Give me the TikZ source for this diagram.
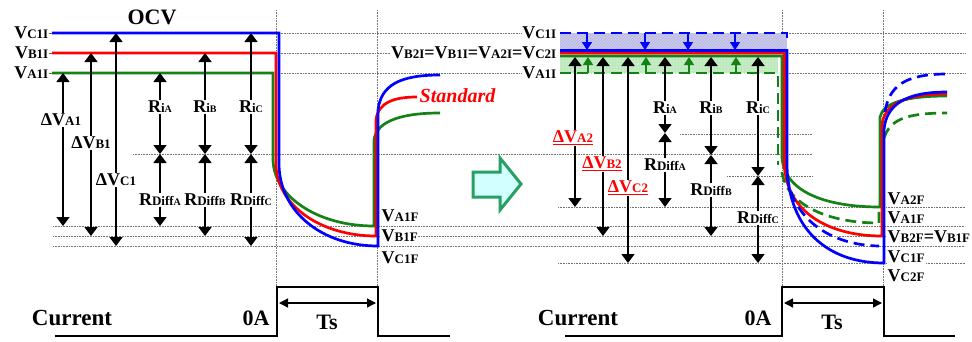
\documentclass[tikz,border=0pt]{standalone}
\usepackage{fontspec}
\setmainfont{Liberation Serif}
\usetikzlibrary{arrows.meta,patterns}
\definecolor{cblue}{RGB}{0,0,255}
\definecolor{cred}{RGB}{255,0,0}
\definecolor{cgreen}{RGB}{20,130,20}
\definecolor{arrgreen}{RGB}{40,160,100}
\definecolor{arrfill}{RGB}{210,255,255}
\definecolor{shblue}{RGB}{200,200,255}
\definecolor{shgreen}{RGB}{200,235,200}
\newcommand\fBig{\fontsize{18}{18}\selectfont}
\newcommand\fSml{\fontsize{13}{13}\selectfont}
\newcommand\fTny{\fontsize{10}{10}\selectfont}
\newcommand\Vlab[1]{{\fBig V}{\fSml #1}}
\newcommand\Rlab[2]{{\fBig R}{\fSml #1}{\fTny #2}}
\newcommand\Dlab[1]{{\fBig Δ}\Vlab{#1}}
\begin{document}
\begin{tikzpicture}[x=1pt,y=-1pt,
 lbl/.style={font=\bfseries, inner sep=0.5pt},
 wlab/.style={lbl, fill=white, anchor=west},
 dotl/.style={densely dotted, black!55, line width=0.6pt},
 arr/.style={line width=1.5pt, -{Triangle[width=13pt,length=9pt]}},
 sarr/.style={line width=1.6pt, -{Triangle[width=10pt,length=8pt]}},
 crv/.style={line width=2.7pt},
 dsh/.style={line width=2.7pt, dash pattern=on 11pt off 6pt},
 cur/.style={line width=2.4pt},
 tarr/.style={line width=1.3pt, {Triangle[width=9pt,length=9pt]}-{Triangle[width=9pt,length=9pt]}},
]
\useasboundingbox (0,0) rectangle (972,341);

% ---------- labels at top left
\node[lbl] (ocv) at (152,17) {\fontsize{22}{22}\selectfont OCV};
\node[lbl,anchor=east] (LVc) at (49,33) {\Vlab{C1I}};
\node[lbl,anchor=east] (LVb) at (49,53) {\Vlab{B1I}};
\node[lbl,anchor=east] (LVa) at (49,73) {\Vlab{A1I}};
\coordinate (Lc0) at (52,33);
\coordinate (Lb0) at (52,53);
\coordinate (La0) at (52,73);
\draw[line width=0.6pt, black!60] (LVc.east) -- (Lc0);
\draw[line width=0.6pt, black!60] (LVb.east) -- (Lb0);
\draw[line width=0.6pt, black!60] (LVa.east) -- (La0);

% ---------- right top labels
\node[lbl,anchor=east] (RVc) at (557,33) {\Vlab{C1I}};
\node[lbl,anchor=east] (RVb) at (557,53) {\Vlab{B2I}{\fBig =}\Vlab{B1I}{\fBig =}\Vlab{A2I}{\fBig =}\Vlab{C2I}};
\node[lbl,anchor=east] (RVa) at (557,73) {\Vlab{A1I}};

% ---------- dotted guide lines
\coordinate (g33) at (279,33); \coordinate (g53) at (279,53); \coordinate (g73) at (279,73);
\draw[dotl] (g33) -- (RVc.west);
\draw[dotl] (g53) -- (RVb.west);
\draw[dotl] (g73) -- (RVa.west);
\draw[dotl] (787,33) -- (965,33);
\draw[dotl] (787,53) -- (965,53);
\draw[dotl] (787,73) -- (965,73);
\draw[dotl] (276,10) -- (276,287);
\draw[dotl] (377,10) -- (377,287);
\draw[dotl] (782,10) -- (782,287);
\draw[dotl] (883,10) -- (883,287);
\draw[dotl] (133,154) -- (812,154);
\draw[dotl] (680,134) -- (812,134);
\draw[dotl] (727,176) -- (812,176);
\draw[dotl] (558,207) -- (965,207);
\draw[dotl] (53,226) -- (965,226);
\draw[dotl] (53,236) -- (965,236);
\draw[dotl] (53,246) -- (965,246);
\draw[dotl] (558,263) -- (965,263);

% ---------- left curves
\draw[crv, cgreen] (La0) -- (273,73) -- (273,160) .. controls (274,197) and (318,226) .. (374,226) -- (374,140) .. controls (376,124) and (395,113) .. (440,113);
\draw[crv, cred] (Lb0) -- (276,53) -- (276,165) .. controls (277,205) and (320,236) .. (376,236) -- (376,120) .. controls (378,102) and (395,97) .. (417,97);
\draw[crv, cblue] (Lc0) -- (279,33) -- (279,165) .. controls (280,212) and (322,246) .. (378,246) -- (378,110) .. controls (381,85) and (400,75) .. (440,75);
\node[lbl, anchor=west, text=cred, font=\bfseries\itshape\fontsize{20}{20}\selectfont] (std) at (419,96) {Standard};

% ---------- left Delta arrows
\coordinate (a1t) at (63,73);  \coordinate (a1b) at (63,226);
\coordinate (b1t) at (91,53);  \coordinate (b1b) at (91,236);
\coordinate (c1t) at (116,33); \coordinate (c1b) at (116,246);
\node[lbl] (dva1) at (61,120) {\Dlab{A1}};
\node[lbl] (dvb1) at (91,143) {\Dlab{B1}};
\node[lbl] (dvc1) at (116,180) {\Dlab{C1}};
\draw[arr] (dva1.north -| a1t) -- (a1t); \draw[arr] (dva1.south -| a1b) -- (a1b);
\draw[arr] (dvb1.north) -- (b1t); \draw[arr] (dvb1.south) -- (b1b);
\draw[arr] (dvc1.north) -- (c1t); \draw[arr] (dvc1.south) -- (c1b);

% ---------- left R columns
\foreach \n/\x/\t/\b/\s in {A/160/73/226/A, B/205/53/236/B, C/251/33/246/C}{
  \coordinate (LRt\n) at (\x,\t);
  \coordinate (LRm\n) at (\x,154);
  \coordinate (LRb\n) at (\x,\b);
  \node[lbl] (LRi\n) at (\x,107) {\Rlab{i}{\s}};
  \node[lbl] (LRd\n) at (\x,200) {\Rlab{Diff}{\s}};
  \draw[arr] (LRi\n.north) -- (LRt\n);
  \draw[arr] (LRi\n.south) -- (LRm\n);
  \draw[arr] (LRd\n.north) -- (LRm\n);
  \draw[arr] (LRd\n.south) -- (LRb\n);
}

% ---------- left final labels
\node[wlab] (LVa1f) at (381,216) {\Vlab{A1F}};
\node[wlab] (LVb1f) at (381,236) {\Vlab{B1F}};
\node[wlab] (LVc1f) at (381,258) {\Vlab{C1F}};

% ---------- middle arrow
\draw[line width=3pt, arrgreen, fill=arrfill, line join=miter] (473,172) -- (500,172) -- (500,158) -- (521,184) -- (500,210) -- (500,197) -- (473,197) -- cycle;

% ---------- right shaded bands
\fill[shblue] (560,33) rectangle (787,50);
\fill[pattern=north east lines, pattern color=gray!55] (560,33) rectangle (787,50);
\fill[shgreen] (560,56) rectangle (778,73);
\fill[pattern=grid, pattern color=green!50!gray!35] (560,56) rectangle (778,73);
\draw[dsh, cblue] (560,33) -- (787,33) -- (787,42);
\draw[dsh, cgreen] (560,73) -- (778,73) -- (778,165);
\foreach \k/\x in {1/587,2/645,3/688,4/735}{
  \coordinate (bs\k) at (\x,33); \coordinate (be\k) at (\x,50);
  \draw[sarr, cblue] (bs\k) -- (be\k);
}
\foreach \k/\x in {1/588,2/646,3/689,4/736}{
  \coordinate (gs\k) at (\x,73); \coordinate (ge\k) at (\x,57);
  \draw[sarr, cgreen] (gs\k) -- (ge\k);
}

% ---------- right curves
\draw[dsh, cgreen] (782,172) .. controls (786,203) and (825,223) .. (879,223) -- (879,211);
\draw[dsh, cgreen] (884,138) .. controls (890,120) and (905,113) .. (947,113);
\draw[crv, cgreen] (560,56) -- (782,56) -- (782,157) .. controls (784,192) and (826,207) .. (880,207) -- (880,117) .. controls (883,103) and (905,96) .. (947,96);
\draw[crv, cred] (560,53) -- (784.5,53) -- (784.5,165) .. controls (786,210) and (826,236) .. (882,236) -- (882,125) .. controls (884,104) and (905,94) .. (947,94);
\draw[dsh, cblue] (787,175) .. controls (792,217) and (828,245) .. (879,246);
\draw[dsh, cblue] (885,112) .. controls (889,86) and (905,74) .. (947,74);
\draw[crv, cblue] (560,50.5) -- (787,50.5) -- (787,167) .. controls (789,230) and (828,263) .. (884,263) -- (884,130) .. controls (886,105) and (905,92) .. (947,92);

% ---------- right Delta arrows
\coordinate (a2t) at (575,57);  \coordinate (a2b) at (575,207);
\coordinate (b2t) at (603,57);  \coordinate (b2b) at (603,236);
\coordinate (c2t) at (628,57);  \coordinate (c2b) at (628,263);
\node[lbl, text=cred] (dva2) at (573,138) {\underline{\Dlab{A2}}};
\node[lbl, text=cred] (dvb2) at (602,164) {\underline{\Dlab{B2}}};
\node[lbl, text=cred] (dvc2) at (628,188) {\underline{\Dlab{C2}}};
\draw[arr] (dva2.north -| a2t) -- (a2t); \draw[arr] (dva2.south -| a2b) -- (a2b);
\draw[arr] (dvb2.north -| b2t) -- (b2t); \draw[arr] (dvb2.south -| b2b) -- (b2b);
\draw[arr] (dvc2.north) -- (c2t); \draw[arr] (dvc2.south) -- (c2b);

% ---------- right R columns
\foreach \n/\x/\m/\d/\b/\s in {A/665/133/165/207/A, B/711/155/190/236/B, C/758/176/218/263/C}{
  \coordinate (RRt\n) at (\x,57);
  \coordinate (RRm\n) at (\x,\m);
  \coordinate (RRb\n) at (\x,\b);
  \node[lbl] (RRi\n) at (\x,108) {\Rlab{i}{\s}};
  \node[lbl] (RRd\n) at (\x,\d) {\Rlab{Diff}{\s}};
  \draw[arr] (RRi\n.north) -- (RRt\n);
  \draw[arr] (RRi\n.south) -- (RRm\n);
  \draw[arr] (RRd\n.north) -- (RRm\n);
  \draw[arr] (RRd\n.south) -- (RRb\n);
}

% ---------- right final labels
\node[wlab] (RVa2f) at (887,199) {\Vlab{A2F}};
\node[wlab] (RVa1f) at (887,218) {\Vlab{A1F}};
\node[wlab] (RVb2f) at (887,237) {\Vlab{B2F}{\fBig =}\Vlab{B1F}};
\node[wlab] (RVc1f) at (887,257) {\Vlab{C1F}};
\node[wlab] (RVc2f) at (887,276) {\Vlab{C2F}};

% ---------- current waveforms
\draw[cur] (55,336) -- (277,336) -- (277,287) -- (378,287) -- (378,336) -- (450,336);
\draw[cur] (565,336) -- (782,336) -- (782,287) -- (884,287) -- (884,336) -- (955,336);
\coordinate (ts1a) at (279,303); \coordinate (ts1b) at (376,303);
\coordinate (ts2a) at (784,303); \coordinate (ts2b) at (882,303);
\draw[tarr] (ts1a) -- (ts1b);
\draw[tarr] (ts2a) -- (ts2b);
\node[lbl] (cur1) at (72,318) {\fontsize{23}{23}\selectfont Current};
\node[lbl] (zero1) at (256,318) {\fontsize{22}{22}\selectfont 0A};
\node[lbl] (ts1) at (327,322) {\fontsize{22}{22}\selectfont Ts};
\node[lbl] (cur2) at (578,318) {\fontsize{23}{23}\selectfont Current};
\node[lbl] (zero2) at (758,318) {\fontsize{22}{22}\selectfont 0A};
\node[lbl] (ts2) at (832,322) {\fontsize{22}{22}\selectfont Ts};
\end{tikzpicture}
\end{document}
